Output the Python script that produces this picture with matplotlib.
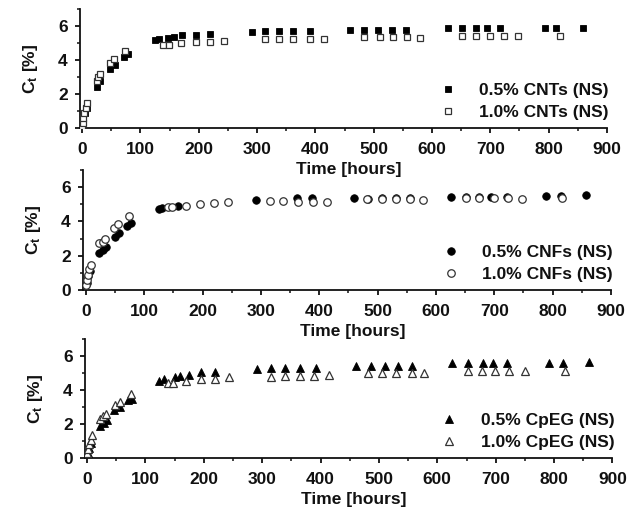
import matplotlib
matplotlib.use("Agg")
import matplotlib.pyplot as plt
from matplotlib.ticker import MultipleLocator

# ---------------- DATA ----------------
# CNTs (top panel)
cnt_t05 = [2, 5, 8, 25, 31, 48, 56, 72, 78, 125, 132, 148, 158, 172, 196, 220,
           291, 314, 338, 362, 391, 459, 484, 508, 532, 555, 627, 652, 675, 694,
           717, 793, 813, 859]
cnt_c05 = [0.5, 0.9, 1.2, 2.39, 2.76, 3.45, 3.69, 4.18, 4.33, 5.2, 5.25, 5.3,
           5.38, 5.45, 5.47, 5.5, 5.62, 5.7, 5.7, 5.7, 5.72, 5.76, 5.76, 5.76,
           5.76, 5.76, 5.86, 5.86, 5.86, 5.86, 5.86, 5.86, 5.86, 5.86]
cnt_t10 = [0, 1, 2, 4, 6, 8, 25, 27, 31, 48, 55, 73, 139, 149, 170, 196, 220,
           243, 314, 338, 362, 390, 414, 484, 510, 533, 557, 580, 651, 675, 699,
           724, 748, 819]
cnt_c10 = [0.1, 0.3, 0.6, 0.9, 1.2, 1.45, 2.75, 3.0, 3.15, 3.8, 4.05, 4.5, 4.86,
           4.88, 5.02, 5.06, 5.06, 5.12, 5.22, 5.22, 5.22, 5.23, 5.23, 5.37, 5.37,
           5.37, 5.37, 5.27, 5.43, 5.43, 5.43, 5.43, 5.43, 5.43]

# CNFs (middle panel)
cnf_t05 = [1, 4, 7, 23, 29, 35, 49, 56, 71, 77, 126, 131, 157, 291, 362, 388,
           459, 484, 508, 532, 556, 626, 651, 673, 695, 721, 789, 814, 857]
cnf_c05 = [0.4, 0.8, 1.1, 2.14, 2.33, 2.52, 3.07, 3.3, 3.73, 3.88, 4.7, 4.76,
           4.89, 5.24, 5.38, 5.36, 5.38, 5.33, 5.36, 5.38, 5.38, 5.43, 5.43, 5.40,
           5.43, 5.43, 5.47, 5.47, 5.57]
cnf_t10 = [0, 2, 3, 5, 9, 23, 29, 33, 48, 55, 73, 140, 148, 171, 196, 220, 244,
           315, 338, 363, 389, 413, 482, 507, 531, 556, 577, 652, 674, 699, 723,
           748, 816]
cnf_c10 = [0.3, 0.6, 0.9, 1.2, 1.46, 2.76, 2.82, 2.95, 3.59, 3.83, 4.33, 4.82,
           4.85, 4.89, 5.0, 5.05, 5.14, 5.2, 5.2, 5.14, 5.14, 5.15, 5.3, 5.3, 5.3,
           5.3, 5.24, 5.34, 5.34, 5.34, 5.34, 5.32, 5.34]

# CpEG (bottom panel)
cpeg_t05 = [1, 4, 7, 23, 29, 35, 47, 56, 71, 77, 124, 132, 150, 159, 175, 196,
            220, 291, 315, 339, 364, 392, 461, 486, 510, 533, 557, 626, 653, 678,
            696, 720, 792, 816, 860]
cpeg_c05 = [0.3, 0.6, 0.9, 1.88, 2.08, 2.21, 2.85, 2.99, 3.42, 3.47, 4.54, 4.64,
            4.79, 4.81, 4.87, 5.03, 5.08, 5.22, 5.32, 5.32, 5.32, 5.32, 5.42,
            5.42, 5.42, 5.42, 5.42, 5.58, 5.58, 5.58, 5.58, 5.58, 5.58, 5.58, 5.62]
cpeg_t10 = [0, 2, 4, 6, 9, 23, 28, 33, 48, 56, 76, 139, 147, 170, 196, 220, 244,
            315, 339, 364, 388, 415, 482, 506, 530, 556, 577, 653, 676, 699, 723,
            750, 818]
cpeg_c10 = [0.3, 0.55, 0.8, 1.05, 1.38, 2.29, 2.45, 2.6, 3.09, 3.28, 3.77, 4.41,
            4.41, 4.5, 4.64, 4.64, 4.74, 4.79, 4.83, 4.83, 4.83, 4.87, 4.99, 4.99,
            4.99, 4.99, 4.99, 5.12, 5.12, 5.12, 5.12, 5.1, 5.12]

labels_cnt = ["0.5% CNTs (NS)", "1.0% CNTs (NS)"]
labels_cnf = ["0.5% CNFs (NS)", "1.0% CNFs (NS)"]
labels_cpeg = ["0.5% CpEG (NS)", "1.0% CpEG (NS)"]

x_ticks = [0, 100, 200, 300, 400, 500, 600, 700, 800, 900]
y_ticks = [0, 2, 4, 6]
# --------------------------------------

TXT = "#111111"
FS = 12.5

plt.rcParams["font.family"] = ["Liberation Sans", "DejaVu Sans"]
plt.rcParams["font.weight"] = "bold"
plt.rcParams["mathtext.default"] = "regular"


def draw_panel(fig, rect, xleft, t05, c05, t10, c10, labels, marker, ms):
    ax = fig.add_axes(rect)
    # transparent background so the panel above keeps its x label visible
    ax.set_facecolor("none")
    ax.plot(t05, c05, linestyle="none", marker=marker, ms=ms,
            mfc="black", mec="black", mew=0.6, label=labels[0], zorder=3)
    ax.plot(t10, c10, linestyle="none", marker=marker, ms=ms,
            mfc="white", mec="#333333", mew=0.9, label=labels[1], zorder=4)

    ax.set_xlim(xleft, 900)
    ax.set_ylim(0, 7)
    ax.set_xticks(x_ticks)
    ax.set_yticks(y_ticks)
    ax.xaxis.set_minor_locator(MultipleLocator(50))
    ax.yaxis.set_minor_locator(MultipleLocator(1))

    for side in ("top", "right"):
        ax.spines[side].set_visible(False)
    for side in ("left", "bottom"):
        ax.spines[side].set_linewidth(1.3)
        ax.spines[side].set_color(TXT)

    ax.tick_params(which="major", direction="out", length=3.8, width=1.3,
                   color=TXT, labelsize=FS, labelcolor=TXT)
    ax.tick_params(which="minor", direction="out", length=2.2, width=1.1,
                   color=TXT)
    ax.tick_params(axis="x", which="major", pad=6)
    ax.tick_params(axis="y", which="major", pad=5)

    ax.set_xlabel("Time [hours]", fontsize=FS, fontweight="bold", color=TXT)
    ax.xaxis.set_label_coords(0.51, -0.285)
    ax.set_ylabel("C$_t$ [%]", fontsize=FS, fontweight="bold", color=TXT)
    ax.yaxis.set_label_coords(-0.076, 0.5)

    leg = ax.legend(loc="lower right", bbox_to_anchor=(1.01, 0.04),
                    frameon=False, fontsize=FS, handlelength=1.0,
                    handletextpad=1.3, labelspacing=0.4, borderpad=0.2,
                    borderaxespad=0.0, markerscale=1.0)
    for txt in leg.get_texts():
        txt.set_color(TXT)
    return ax


fig = plt.figure(figsize=(6.29, 5.13), dpi=100)

draw_panel(fig, [0.1272, 0.7505, 0.8378, 0.2320], -3.5,
           cnt_t05, cnt_c05, cnt_t10, cnt_c10, labels_cnt, "s", 4.8)
draw_panel(fig, [0.1320, 0.4347, 0.8394, 0.2339], -5,
           cnf_t05, cnf_c05, cnf_t10, cnf_c10, labels_cnf, "o", 5.4)
draw_panel(fig, [0.1351, 0.1072, 0.8386, 0.2320], -3.5,
           cpeg_t05, cpeg_c05, cpeg_t10, cpeg_c10, labels_cpeg, "^", 6.2)

fig.savefig("out.png", dpi=100, facecolor="white")
